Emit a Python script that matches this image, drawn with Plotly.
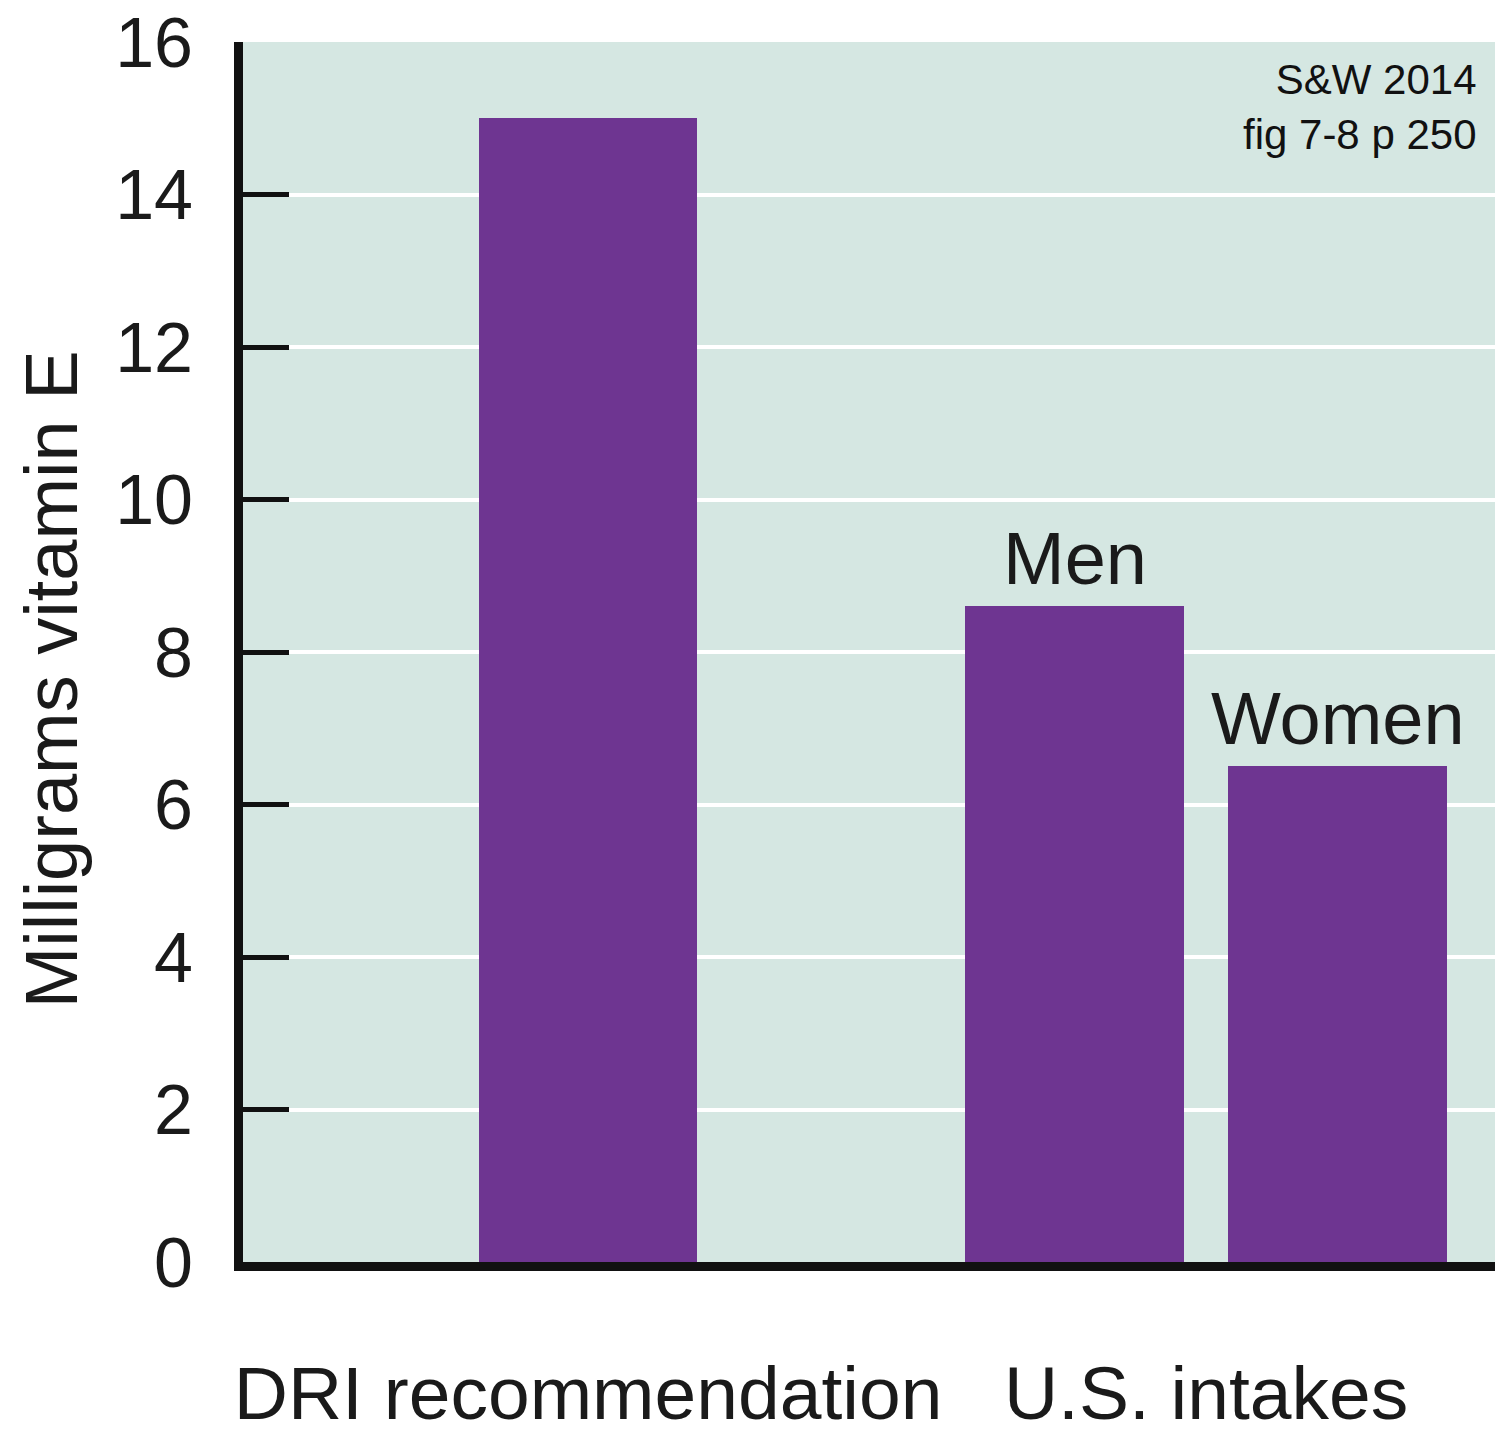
import plotly.graph_objects as go

# Data
bar_labels = ["DRI recommendation", "Men", "Women"]
bar_values = [15, 8.6, 6.5]
y_ticks = [0, 2, 4, 6, 8, 10, 12, 14, 16]
group_labels = ["DRI recommendation", "U.S. intakes"]
y_title = "Milligrams vitamin E"
source_note = "S&W 2014<br>fig 7-8 p 250"

# Layout (positions on the numeric x axis)
bar_x = [0, 1.85, 2.85]
group_x = [0, 2.35]

FONT = "Liberation Sans, Arial, Helvetica, sans-serif"
BAR = "#6e3591"
BG = "#d5e7e2"
INK = "#1a1a1a"

fig = go.Figure()
fig.add_trace(go.Bar(
    x=bar_x, y=bar_values, width=0.83,
    marker=dict(color=BAR, line=dict(width=0)),
    hovertext=bar_labels, showlegend=False,
))

# Men / Women labels above bars
for xi, lab, val in zip(bar_x[1:], bar_labels[1:], bar_values[1:]):
    fig.add_annotation(x=xi, y=val, text=lab, showarrow=False,
                       xanchor="center", yanchor="bottom", yshift=4,
                       font=dict(family=FONT, size=74, color=INK))

# Y axis title
fig.add_annotation(xref="paper", yref="paper", x=-0.152, y=0.478,
                   text=y_title, textangle=-90, showarrow=False,
                   xanchor="center", yanchor="middle",
                   font=dict(family=FONT, size=74, color=INK))

# Source note
fig.add_annotation(xref="paper", yref="paper", x=0.981, y=0.99,
                   text=source_note, showarrow=False, align="right",
                   xanchor="right", yanchor="top",
                   font=dict(family=FONT, size=42, color="#111111"))

fig.update_layout(
    width=1495, height=1422,
    margin=dict(l=235, r=0, t=34, b=168, pad=0),
    paper_bgcolor="white", plot_bgcolor=BG,
    bargap=0,
    xaxis=dict(
        range=[-1.312, 3.479], showgrid=False, zeroline=False,
        automargin=False, ticklabeloverflow="allow",
        tickmode="array", tickvals=group_x, ticktext=group_labels,
        ticks="", showline=True, linecolor="#111111", linewidth=9,
        tickfont=dict(family=FONT, size=75, color=INK),
        ticklabelstandoff=58,
    ),
    yaxis=dict(
        range=[0, 16], tickmode="array", tickvals=y_ticks,
        automargin=False, ticklabeloverflow="allow",
        showgrid=True, gridcolor="white", gridwidth=4, zeroline=False,
        ticks="inside", ticklen=46, tickwidth=5, tickcolor="#111111",
        showline=True, linecolor="#111111", linewidth=9,
        tickfont=dict(family=FONT, size=70, color=INK),
        ticklabelstandoff=27,
    ),
)

fig.write_html("out.html")
